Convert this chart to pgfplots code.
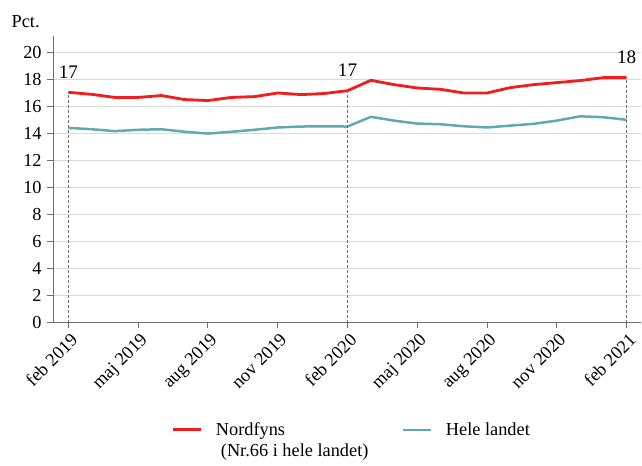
\documentclass[border=0pt]{standalone}
\usepackage{fontspec}
\setmainfont{Liberation Serif}
\usepackage{pgfplots}
\pgfplotsset{compat=1.18}

\definecolor{nordred}{RGB}{240,30,30}
\definecolor{heleteal}{RGB}{95,170,175}
\definecolor{gridgray}{RGB}{218,218,218}
\definecolor{axisgray}{RGB}{110,110,110}

\begin{document}
\begin{tikzpicture}
\begin{axis}[
  scale only axis,
  width=353pt, height=172pt,
  xmin=-0.65, xmax=24.63,
  ymin=0, ymax=21.26,
  axis x line*=bottom, axis y line*=left,
  axis line style={axisgray, line width=0.8pt},
  xtick={0,3,6,9,12,15,18,21,24},
  xticklabels={feb 2019,maj 2019,aug 2019,nov 2019,feb 2020,maj 2020,aug 2020,nov 2020,feb 2021},
  xticklabel style={rotate=45, anchor=north east, inner sep=1pt, yshift=-1pt},
  ytick={0,2,...,20},
  ymajorgrids,
  grid style={gridgray, line width=0.6pt},
  tick align=outside,
  major tick length=3.5pt,
  tick style={axisgray, line width=0.6pt},
  /pgf/number format/assume math mode=true,
  tick label style={font=\fontsize{11}{13}\selectfont},
  clip=false,
  legend columns=2,
  legend style={at={(0.5,0)}, anchor=north, yshift=-56pt, xshift=3pt, draw=none,
    font=\fontsize{11}{12.5}\selectfont,
    nodes={align=left, anchor=base west},
    /tikz/every odd column/.append style={column sep=6pt},
    /tikz/every even column/.append style={column sep=18pt}},
  legend cell align=left,
  legend image code/.code={\draw[#1] (0pt,16pt) -- (17pt,16pt);},
]
\addplot[nordred, line width=1.7pt] coordinates {
(0,17.08) (1,16.93) (2,16.70) (3,16.70) (4,16.84) (5,16.54) (6,16.47)
(7,16.70) (8,16.76) (9,17.03) (10,16.91) (11,16.99) (12,17.20)
(13,17.97) (14,17.65) (15,17.40) (16,17.30) (17,17.03) (18,17.03)
(19,17.43) (20,17.65) (21,17.80) (22,17.95) (23,18.17) (24,18.17)
};
\addlegendentry{Nordfyns\\\hspace{3pt}(Nr.66 i hele landet)}
\addplot[heleteal, line width=1.5pt] coordinates {
(0,14.44) (1,14.34) (2,14.20) (3,14.30) (4,14.34) (5,14.15) (6,14.02)
(7,14.15) (8,14.30) (9,14.47) (10,14.54) (11,14.56) (12,14.54)
(13,15.26) (14,14.98) (15,14.76) (16,14.71) (17,14.56) (18,14.47)
(19,14.61) (20,14.74) (21,14.98) (22,15.30) (23,15.23) (24,15.04)
};
\addlegendentry{Hele landet\\\mbox{}}
\addplot[ycomb, axisgray, dash pattern=on 1.6pt off 1.4pt, line width=0.5pt,
  point meta=explicit symbolic,
  nodes near coords, nodes near coords style={black, anchor=south, yshift=5pt, font=\fontsize{11.5}{13}\selectfont},
  forget plot] coordinates {
(0,17.08) [17] (12,17.20) [17] (24,18.17) [18]
};
\node[anchor=south east, inner sep=0pt, font=\fontsize{11}{13}\selectfont] at (rel axis cs:0,1) [xshift=-8pt, yshift=5pt] {Pct.};
\path (rel axis cs:0,1) ++(-32pt,21.6pt) coordinate (bbtl);
\path[use as bounding box] (bbtl) rectangle (bbtl);
\end{axis}
\end{tikzpicture}
\end{document}
